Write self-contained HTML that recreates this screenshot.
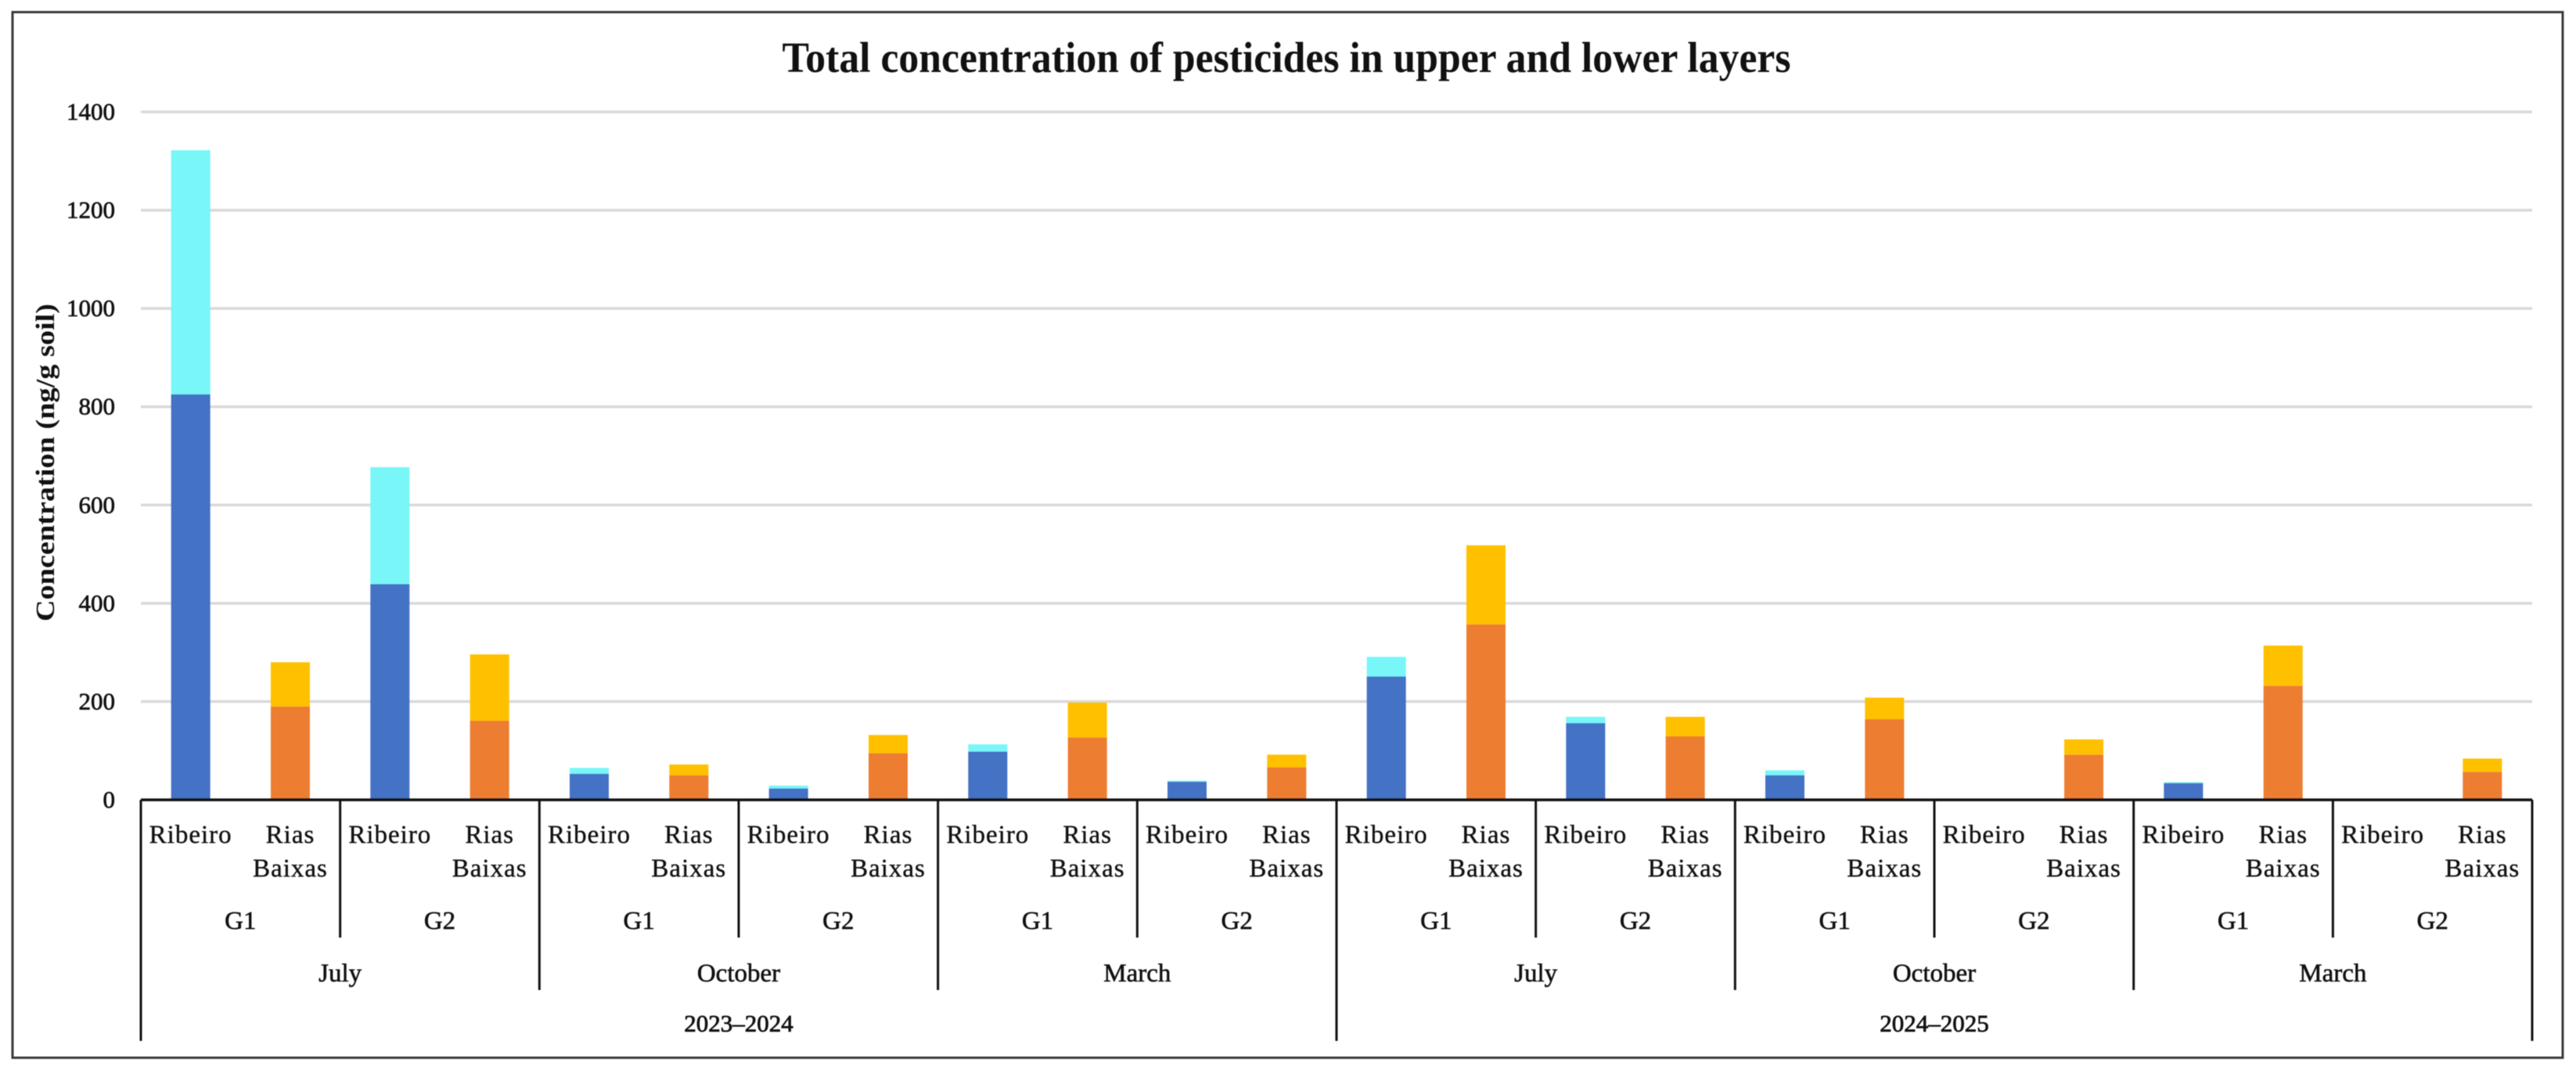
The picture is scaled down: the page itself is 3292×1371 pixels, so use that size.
<!DOCTYPE html>
<html lang="en">
<head>
<meta charset="utf-8">
<title>Total concentration of pesticides in upper and lower layers</title>
<style>
html,body{margin:0;padding:0;background:#fff;width:3292px;height:1371px;overflow:hidden}
svg{display:block;filter:blur(0.5px)}
text{font-family:"Liberation Serif",serif;fill:#111}
</style>
</head>
<body>
<svg id="chart" xmlns="http://www.w3.org/2000/svg" width="3292" height="1371" viewBox="0 0 3292 1371">
  <rect x="16" y="15.5" width="3259" height="1336" fill="#fff" stroke="#3a3a3a" stroke-width="3"/>
  <text x="1644" y="92" font-size="55" font-weight="bold" text-anchor="middle" textLength="1289" lengthAdjust="spacingAndGlyphs">Total concentration of pesticides in upper and lower layers</text>
  <text transform="translate(69,591) rotate(-90)" font-size="34" font-weight="bold" text-anchor="middle" textLength="406" lengthAdjust="spacingAndGlyphs">Concentration (ng/g soil)</text>
  <g id="grid"></g>
  <g id="bars"></g>
  <g id="axis"></g>
</svg>
<script>
const yTicks = [0, 200, 400, 600, 800, 1000, 1200, 1400];
const regions = ["Ribeiro", "Rias Baixas", "Ribeiro", "Rias Baixas", "Ribeiro", "Rias Baixas", "Ribeiro", "Rias Baixas", "Ribeiro", "Rias Baixas", "Ribeiro", "Rias Baixas", "Ribeiro", "Rias Baixas", "Ribeiro", "Rias Baixas", "Ribeiro", "Rias Baixas", "Ribeiro", "Rias Baixas", "Ribeiro", "Rias Baixas", "Ribeiro", "Rias Baixas"];
const groups = ["G1", "G2", "G1", "G2", "G1", "G2", "G1", "G2", "G1", "G2", "G1", "G2"];
const months = ["July", "October", "March", "July", "October", "March"];
const years = ["2023–2024", "2024–2025"];
const upperLayer = [825, 190, 439, 161, 53, 50, 23, 95, 98, 127, 37, 66, 251, 357, 156, 129, 50, 164, 0, 92, 34, 232, 0, 57];
const lowerLayer = [497, 90, 238, 135, 12, 22, 6, 37, 15, 71, 2, 26, 40, 161, 13, 40, 10, 44, 0, 31, 2, 82, 0, 27];

const NS = "http://www.w3.org/2000/svg";
const plotLeft = 180, plotRight = 3236, plotTop = 143, plotBottom = 1022, yMax = 1400;
const barWidth = 50;
const stepX = (plotRight - plotLeft) / regions.length;
const upperColors = { Ribeiro: "#4472C4", "Rias Baixas": "#ED7D31" };
const lowerColors = { Ribeiro: "#78F6F8", "Rias Baixas": "#FFC000" };
const yScale = v => plotBottom - (v / yMax) * (plotBottom - plotTop);
const xEdge = i => plotLeft + i * stepX;
const xCenter = i => xEdge(i) + stepX / 2;

function make(tag, attrs, parent, txt) {
  const el = document.createElementNS(NS, tag);
  for (const k in attrs) el.setAttribute(k, attrs[k]);
  if (txt !== undefined) el.textContent = txt;
  parent.appendChild(el);
  return el;
}
const gridG = document.getElementById("grid");
const barsG = document.getElementById("bars");
const axisG = document.getElementById("axis");

yTicks.forEach(t => {
  if (t > 0) {
    const ln = make("line", { x1: plotLeft, x2: plotRight, y1: yScale(t), y2: yScale(t), stroke: "#d9d9d9", "stroke-width": 3.5 }, gridG);
    
    
  }
  const lb = make("text", { x: 147, y: yScale(t) + 10, "font-size": 31, "text-anchor": "end", stroke: "#111", "stroke-width": 0.7 }, gridG, String(t));
  
  
});

regions.forEach((r, i) => {
  const x = xCenter(i) - barWidth / 2;
  const u = upperLayer[i], l = lowerLayer[i];
  if (u > 0) {
    const a = make("rect", { x: x, y: yScale(u), width: barWidth, height: yScale(0) - yScale(u), fill: upperColors[r] }, barsG);
    
    
  }
  if (l > 0) {
    const b = make("rect", { x: x, y: yScale(u + l), width: barWidth, height: yScale(u) - yScale(u + l), fill: lowerColors[r] }, barsG);
    
    
  }
});

function vline(i, yEnd, name) {
  const el = make("line", { x1: xEdge(i), x2: xEdge(i), y1: plotBottom, y2: yEnd, stroke: "#111", "stroke-width": 3 }, axisG);
  
  
}
const baseLine = make("line", { x1: plotLeft, x2: plotRight, y1: plotBottom, y2: plotBottom, stroke: "#111", "stroke-width": 3.5 }, axisG);



const perGroup = regions.length / groups.length;
const perMonth = regions.length / months.length;
const perYear = regions.length / years.length;
for (let i = 0; i <= regions.length; i++) {
  if (i % perYear === 0) vline(i, 1330, 'year-divider');
  else if (i % perMonth === 0) vline(i, 1265, 'month-divider');
  else if (i % perGroup === 0) vline(i, 1198, 'group-divider');
}

regions.forEach((r, i) => {
  const words = r.split(" ");
  words.forEach((w, j) => {
    const t = make("text", { x: xCenter(i), y: 1077 + j * 43, "font-size": 33, "text-anchor": "middle", "letter-spacing": 1, stroke: "#111", "stroke-width": 0.4 }, axisG, w);
    
    
  });
});
groups.forEach((g, i) => {
  const t = make("text", { x: xEdge(i * perGroup) + perGroup * stepX / 2, y: 1187, "font-size": 33, "text-anchor": "middle", stroke: "#111", "stroke-width": 0.6 }, axisG, g);
  
  
});
months.forEach((m, i) => {
  const t = make("text", { x: xEdge(i * perMonth) + perMonth * stepX / 2, y: 1254, "font-size": 33, "text-anchor": "middle", stroke: "#111", "stroke-width": 0.6 }, axisG, m);
  
  
});
years.forEach((y, i) => {
  const t = make("text", { x: xEdge(i * perYear) + perYear * stepX / 2, y: 1318, "font-size": 31, "text-anchor": "middle", stroke: "#111", "stroke-width": 0.8 }, axisG, y);
  
  
});
</script>
</body>
</html>
